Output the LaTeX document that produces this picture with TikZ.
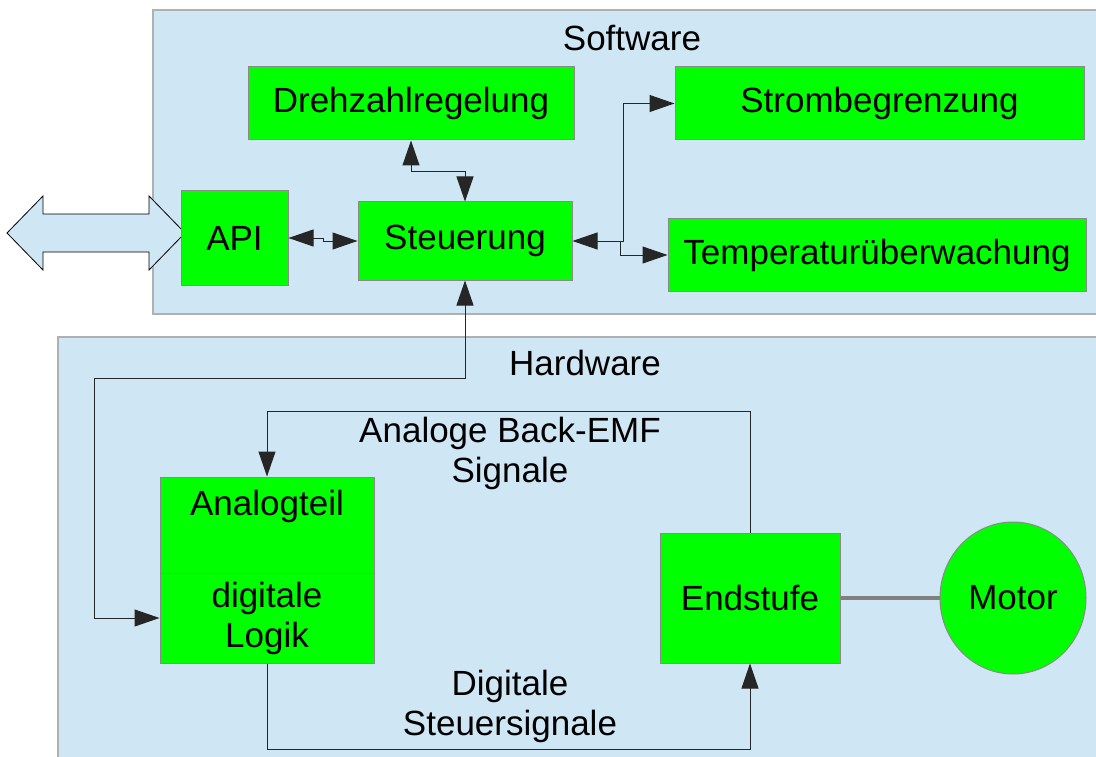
\documentclass[tikz,border=0pt]{standalone}
\usepackage{fontspec}
\setmainfont{Liberation Sans}
\usetikzlibrary{arrows.meta,calc,shapes.geometric}
\definecolor{panelblue}{HTML}{CFE6F4}
\definecolor{panelline}{HTML}{B0B0B0}
\definecolor{boxgreen}{HTML}{00FF00}
\definecolor{boxline}{HTML}{8A8A8A}
\tikzset{
  panel/.style={fill=panelblue, draw=panelline, line width=1.2pt},
  block/.style={fill=boxgreen, draw=boxline, line width=1pt, inner sep=0pt,
    font=\fontsize{35}{40}\selectfont, align=center},
  label/.style={font=\fontsize{35}{40}\selectfont, align=center, inner sep=0pt},
  wire/.style={line width=1pt, draw=black!85},
  tip/.tip={Triangle[length=25pt,width=17pt]},
}
\begin{document}
\begin{tikzpicture}[x=1pt,y=-1pt]
  \useasboundingbox (0,0) rectangle (1096,757);
  \clip (0,0) rectangle (1096,757);

  % background panels
  \path[panel] (153,10) rectangle (1110,314);
  \path[panel] (58,337) rectangle (1110,780);
  \node[label] (sw) at (632,38) {Software};
  \node[label] (hw) at (585,363) {Hardware};

  % external interface arrow
  \draw[fill=panelblue, draw=black, line width=0.8pt]
    (7,233) -- (43,196) -- (43,214) -- (149,214) -- (149,196) -- (185,233)
    -- (149,270) -- (149,252) -- (43,252) -- (43,270) -- cycle;

  % software blocks
  \node[block, minimum width=326, minimum height=73] (drz) at (411,103.5) {Drehzahlregelung};
  \node[block, minimum width=409, minimum height=73] (strom) at (879.5,103.5) {Strombegrenzung};
  \node[block, minimum width=107, minimum height=94] (api) at (234.5,238) {API};
  \node[block, minimum width=214, minimum height=78] (steu) at (465,241) {Steuerung};
  \node[block, minimum width=418, minimum height=72] (temp) at (877,255) {Temperaturüberwachung};

  % hardware blocks
  \node[block, minimum width=214, minimum height=96] (ana) at (267,525) {};
  \node[label] (anatext) at (267,506) {Analogteil};
  \node[block, minimum width=214, minimum height=90] (dig) at (267,618) {digitale\\Logik};
  \node[block, minimum width=180, minimum height=130] (end) at (750,598) {Endstufe};
  \node[block, ellipse, minimum width=146, minimum height=152] (motor) at (1013,598) {Motor};

  % signal labels
  \node[label] (bemf) at (510,453) {Analoge Back-EMF\\Signale};
  \node[label] (dsig) at (510,706) {Digitale\\Steuersignale};

  % software connections
  \draw[wire, tip-tip] (drz.south) -- ++(0,31) -| (steu.north);
  \draw[wire, tip-tip] (api.east) -- ++(35,0) |- (steu.west);
  \draw[wire, tip-tip] (steu.east) -- ++(51,0) |- (strom.west);
  \coordinate (split) at ($(steu.east)+(48,0)$);
  \draw[wire, -tip] (split) |- (temp.west);

  % software / hardware link
  \draw[wire, tip-tip] (steu.south) -- ++(0,98) -- ++(-371,0) |- (dig.west);

  % hardware connections
  \draw[wire, -tip] (end.north) -- ++(0,-121) -| (ana.north);
  \draw[wire, -tip] (dig.south) -- ++(0,86) -| (end.south);
  \draw[line width=4pt, draw=black!50] (end.east) -- (motor.west);
\end{tikzpicture}
\end{document}
